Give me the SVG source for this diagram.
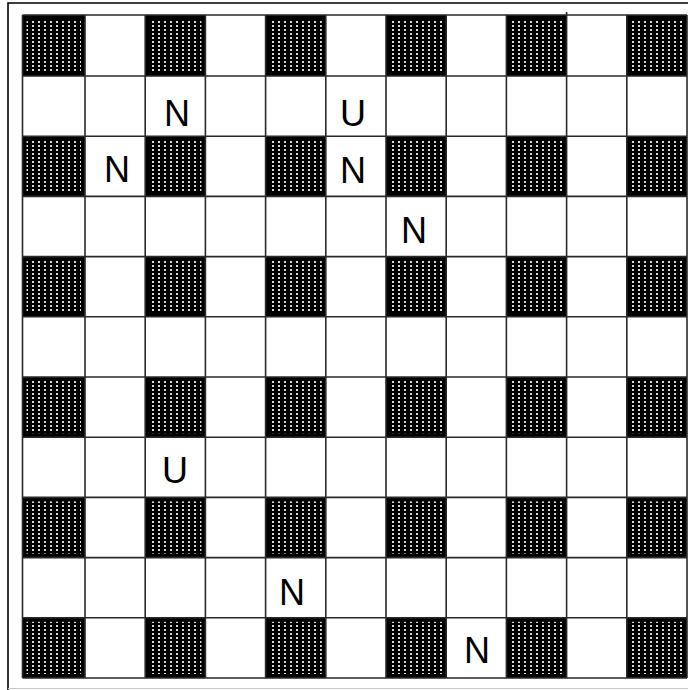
<svg xmlns="http://www.w3.org/2000/svg" width="688" height="690" viewBox="0 0 688 690">
  <defs>
    <pattern id="dots" patternUnits="userSpaceOnUse" x="0" y="0" width="6" height="4">
      <rect width="6" height="4" fill="#000"/>
      <rect x="2" y="1" width="2" height="2" fill="#d8d8d8"/>
    </pattern>
    <style>
      .dk { fill: url(#dots); stroke: #000; stroke-width: 4; }
      .grid { fill: none; stroke: #2a2a2a; stroke-width: 1.6; }
      .frame { fill: none; stroke: #000; stroke-width: 1.6; }
      .lbl { font-family: "Liberation Sans", Arial, sans-serif; font-size: 36px; fill: #000; text-anchor: middle; }
    </style>
  </defs>
  <rect width="688" height="690" fill="#fff"/>
  <g id="frame">
    <path class="frame" d="M8 690 V3 H688"/>
    <line x1="8" y1="688.5" x2="688" y2="688.5" stroke="#c8c8c8" stroke-width="1"/>
  </g>
  <g id="dark-cells">
    <rect class="dk" x="24.5" y="17" width="58.5" height="57"/>
    <rect class="dk" x="147.2" y="17" width="56.2" height="57"/>
    <rect class="dk" x="267.6" y="17" width="56.2" height="57"/>
    <rect class="dk" x="388" y="17" width="56.2" height="57"/>
    <rect class="dk" x="508.4" y="17" width="56.2" height="57"/>
    <rect class="dk" x="628.8" y="17" width="56.2" height="57"/>

    <rect class="dk" x="24.5" y="138.2" width="58.5" height="56.2"/>
    <rect class="dk" x="147.2" y="138.2" width="56.2" height="56.2"/>
    <rect class="dk" x="267.6" y="138.2" width="56.2" height="56.2"/>
    <rect class="dk" x="388" y="138.2" width="56.2" height="56.2"/>
    <rect class="dk" x="508.4" y="138.2" width="56.2" height="56.2"/>
    <rect class="dk" x="628.8" y="138.2" width="56.2" height="56.2"/>

    <rect class="dk" x="24.5" y="258.6" width="58.5" height="56.2"/>
    <rect class="dk" x="147.2" y="258.6" width="56.2" height="56.2"/>
    <rect class="dk" x="267.6" y="258.6" width="56.2" height="56.2"/>
    <rect class="dk" x="388" y="258.6" width="56.2" height="56.2"/>
    <rect class="dk" x="508.4" y="258.6" width="56.2" height="56.2"/>
    <rect class="dk" x="628.8" y="258.6" width="56.2" height="56.2"/>

    <rect class="dk" x="24.5" y="379" width="58.5" height="56.2"/>
    <rect class="dk" x="147.2" y="379" width="56.2" height="56.2"/>
    <rect class="dk" x="267.6" y="379" width="56.2" height="56.2"/>
    <rect class="dk" x="388" y="379" width="56.2" height="56.2"/>
    <rect class="dk" x="508.4" y="379" width="56.2" height="56.2"/>
    <rect class="dk" x="628.8" y="379" width="56.2" height="56.2"/>

    <rect class="dk" x="24.5" y="499.4" width="58.5" height="56.2"/>
    <rect class="dk" x="147.2" y="499.4" width="56.2" height="56.2"/>
    <rect class="dk" x="267.6" y="499.4" width="56.2" height="56.2"/>
    <rect class="dk" x="388" y="499.4" width="56.2" height="56.2"/>
    <rect class="dk" x="508.4" y="499.4" width="56.2" height="56.2"/>
    <rect class="dk" x="628.8" y="499.4" width="56.2" height="56.2"/>

    <rect class="dk" x="24.5" y="619.8" width="58.5" height="56.2"/>
    <rect class="dk" x="147.2" y="619.8" width="56.2" height="56.2"/>
    <rect class="dk" x="267.6" y="619.8" width="56.2" height="56.2"/>
    <rect class="dk" x="388" y="619.8" width="56.2" height="56.2"/>
    <rect class="dk" x="508.4" y="619.8" width="56.2" height="56.2"/>
    <rect class="dk" x="628.8" y="619.8" width="56.2" height="56.2"/>
  </g>
  <g id="grid">
    <path class="grid" d="M22.5 15 V678 M85 15 V678 M145.2 15 V678 M205.4 15 V678 M265.6 15 V678 M325.8 15 V678 M386 15 V678 M446.2 15 V678 M506.4 15 V678 M566.6 12 V678 M626.8 15 V678 M687 15 V678
      M22.5 15 H687 M22.5 76 H687 M22.5 136.2 H687 M22.5 196.4 H687 M22.5 256.6 H687 M22.5 316.8 H687 M22.5 377 H687 M22.5 437.2 H687 M22.5 497.4 H687 M22.5 557.6 H687 M22.5 617.8 H687 M22.5 678 H687"/>
  </g>
  <g id="labels">
    <text class="lbl" x="177" y="126">N</text>
    <text class="lbl" x="353" y="126">U</text>
    <text class="lbl" x="117" y="182">N</text>
    <text class="lbl" x="353" y="183">N</text>
    <text class="lbl" x="414" y="243">N</text>
    <text class="lbl" x="175" y="483">U</text>
    <text class="lbl" x="292" y="605">N</text>
    <text class="lbl" x="477" y="663">N</text>
  </g>
</svg>
